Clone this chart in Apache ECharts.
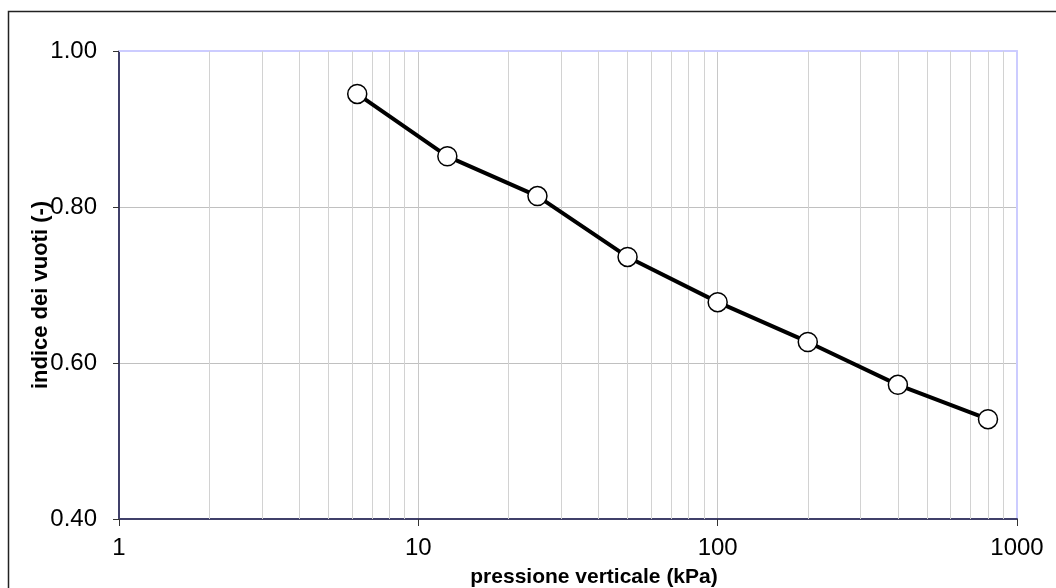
<!DOCTYPE html>
<html>
<head>
<meta charset="utf-8">
<script src="https://cdn.jsdelivr.net/npm/echarts@6/dist/echarts.min.js"></script>
<style>html,body{margin:0;padding:0;background:#fff;}#c{width:1056px;height:588px;}</style>
</head>
<body>
<div id="c"></div>
<script>
// Data
var pressure = [6.25, 12.5, 25, 50, 100, 200, 400, 800];
var voidRatio = [0.945, 0.865, 0.814, 0.736, 0.678, 0.627, 0.572, 0.528];
var minorGridValues = [2,3,4,5,6,7,8,9,20,30,40,50,60,70,80,90,200,300,400,500,600,700,800,900];
var xTitle = 'pressione verticale (kPa)';
var yTitle = 'indice dei vuoti (-)';

var FONT = 'Liberation Sans, Arial, sans-serif';
var chart = echarts.init(document.getElementById('c'), null, {renderer: 'canvas'});

var pts = pressure.map(function (p, i) { return [p, voidRatio[i]]; });

var option = {
  backgroundColor: '#ffffff',
  animation: false,
  grid: { left: 119, right: 39, top: 51, bottom: 69, show: false },
  xAxis: [{
    type: 'log', logBase: 10, min: 1, max: 1000,
    axisLine: { show: true, onZero: false, lineStyle: { color: '#40406a', width: 2 } },
    axisTick: { show: true, length: 7, lineStyle: { color: '#333', width: 1 } },
    axisLabel: { fontFamily: FONT, fontSize: 24, color: '#000', margin: 17,
      formatter: function (v) { return String(Math.round(v)); } },
    splitLine: { show: true, lineStyle: { color: '#c8c8c8', width: 1 } },
    minorTick: { show: false }
  }, {
    type: 'log', logBase: 10, min: 1, max: 1000, position: 'top',
    axisLine: { show: true, lineStyle: { color: '#ccccff', width: 2 } },
    axisTick: { show: false }, axisLabel: { show: false }, splitLine: { show: false }
  }],
  yAxis: [{
    type: 'value', min: 0.4, max: 1.0, interval: 0.2,
    axisLine: { show: true, onZero: false, lineStyle: { color: '#40406a', width: 2 } },
    axisTick: { show: true, length: 6, lineStyle: { color: '#333', width: 1 } },
    axisLabel: { fontFamily: FONT, fontSize: 24, color: '#000', margin: 22,
      formatter: function (v) { return v.toFixed(2); } },
    splitLine: { show: true, lineStyle: { color: '#c0c0c0', width: 1 } }
  }, {
    type: 'value', min: 0.4, max: 1.0, interval: 0.2, position: 'right',
    axisLine: { show: true, lineStyle: { color: '#ccccff', width: 2 } },
    axisTick: { show: false }, axisLabel: { show: false }, splitLine: { show: false }
  }],
  series: [{
    type: 'line', data: [], z: 1, silent: true,
    markLine: {
      silent: true, symbol: ['none', 'none'], label: { show: false },
      lineStyle: { color: '#d2d2d2', width: 1, type: 'solid' },
      data: minorGridValues.map(function (v) { return { xAxis: v }; })
    }
  }, {
    type: 'line', data: pts, z: 5,
    lineStyle: { color: '#000', width: 4 },
    symbol: 'circle', symbolSize: 19,
    itemStyle: { color: '#fff', borderColor: '#000', borderWidth: 1.5 }
  }],
  graphic: [
    { type: 'rect', shape: { x: 8.5, y: 11.5, width: 1200, height: 800 },
      style: { fill: 'none', stroke: '#222', lineWidth: 1.5 }, z: 100 },
    { type: 'text', x: 594, y: 577,
      style: { text: xTitle, font: 'bold 21px ' + FONT, fill: '#000', textAlign: 'center', textVerticalAlign: 'middle' } },
    { type: 'text', x: 41, y: 295, rotation: Math.PI / 2,
      style: { text: yTitle, font: 'bold 22px ' + FONT, fill: '#000', textAlign: 'center', textVerticalAlign: 'middle' } }
  ]
};
chart.setOption(option);
</script>
</body>
</html>
